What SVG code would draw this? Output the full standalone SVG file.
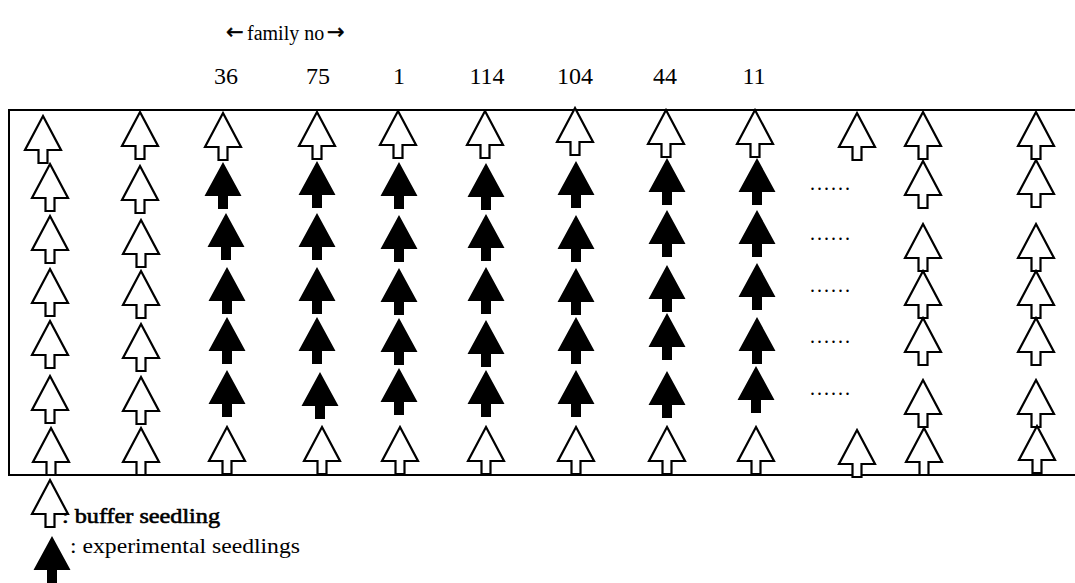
<svg xmlns="http://www.w3.org/2000/svg" xmlns:xlink="http://www.w3.org/1999/xlink" width="1075" height="583" viewBox="0 0 1075 583">
  <style>
    .lbl { font-family: "Liberation Serif", "Times New Roman", serif; font-size: 24px; fill: #000; }
    .ttl { font-family: "Liberation Serif", "Times New Roman", serif; font-size: 20px; fill: #000; }
    .arr { font-family: "DejaVu Sans", sans-serif; font-size: 21px; fill: #000; stroke: #000; stroke-width: 0.5; }
    .num { text-anchor: middle; }
    .dots { font-family: "Liberation Serif", "Times New Roman", serif; font-size: 20px; fill: #000; }
    .leg { font-family: "Liberation Serif", "Times New Roman", serif; font-size: 21px; fill: #000; }
    .heavy { stroke: #000; stroke-width: 0.6; }
    .frame { fill: none; stroke: #000; stroke-width: 2; }
  </style>
  <defs>
    <!-- seedling glyphs, apex at origin -->
    <path id="buf" d="M0,0 L18,34 L4.5,34 L4.5,47 L-4.5,47 L-4.5,34 L-18,34 Z" fill="#fff" stroke="#000" stroke-width="2.2" stroke-linejoin="miter"/>
    <path id="exp" d="M0,0 L18.5,34 L5,34 L5,47 L-5,47 L-5,34 L-18.5,34 Z" fill="#000"/>
  </defs>

  <rect x="0" y="0" width="1075" height="583" fill="#fff"/>

  <!-- header labels -->
  <g id="header">
    <text class="arr" x="226" y="39">←</text>
    <text class="ttl" x="247" y="40">family no</text>
    <text class="arr" x="327" y="39">→</text>
    <text class="lbl num" x="226" y="84">36</text>
    <text class="lbl num" x="318" y="84">75</text>
    <text class="lbl num" x="399" y="84">1</text>
    <text class="lbl num" x="487" y="84">114</text>
    <text class="lbl num" x="575" y="84">104</text>
    <text class="lbl num" x="665" y="84">44</text>
    <text class="lbl num" x="754" y="84">11</text>
  </g>

  <!-- plot frame (runs off the right edge) -->
  <path class="frame" d="M1080,110 L9,110 L9,475 L1080,475"/>

  <!-- border columns -->
  <g id="col1">
    <use xlink:href="#buf" x="43" y="116"/>
    <use xlink:href="#buf" x="50" y="164"/>
    <use xlink:href="#buf" x="50" y="216"/>
    <use xlink:href="#buf" x="50" y="269"/>
    <use xlink:href="#buf" x="50" y="321"/>
    <use xlink:href="#buf" x="50" y="376"/>
    <use xlink:href="#buf" x="51" y="428"/>
  </g>
  <g id="col2">
    <use xlink:href="#buf" x="140" y="112"/>
    <use xlink:href="#buf" x="140" y="166"/>
    <use xlink:href="#buf" x="141" y="220"/>
    <use xlink:href="#buf" x="141" y="271"/>
    <use xlink:href="#buf" x="141" y="324"/>
    <use xlink:href="#buf" x="141" y="377"/>
    <use xlink:href="#buf" x="141" y="428"/>
  </g>

  <!-- family columns -->
  <g id="fam36">
    <use xlink:href="#buf" x="223" y="113"/>
    <use xlink:href="#exp" x="223" y="162"/>
    <use xlink:href="#exp" x="226" y="213"/>
    <use xlink:href="#exp" x="227" y="267"/>
    <use xlink:href="#exp" x="227" y="317"/>
    <use xlink:href="#exp" x="227" y="370"/>
    <use xlink:href="#buf" x="227" y="427"/>
  </g>
  <g id="fam75">
    <use xlink:href="#buf" x="317" y="112"/>
    <use xlink:href="#exp" x="317" y="161"/>
    <use xlink:href="#exp" x="317" y="213"/>
    <use xlink:href="#exp" x="317" y="267"/>
    <use xlink:href="#exp" x="317" y="317"/>
    <use xlink:href="#exp" x="320" y="372"/>
    <use xlink:href="#buf" x="322" y="427"/>
  </g>
  <g id="fam1">
    <use xlink:href="#buf" x="398" y="111"/>
    <use xlink:href="#exp" x="399" y="162"/>
    <use xlink:href="#exp" x="399" y="215"/>
    <use xlink:href="#exp" x="399" y="268"/>
    <use xlink:href="#exp" x="399" y="318"/>
    <use xlink:href="#exp" x="399" y="368"/>
    <use xlink:href="#buf" x="400" y="427"/>
  </g>
  <g id="fam114">
    <use xlink:href="#buf" x="485" y="111"/>
    <use xlink:href="#exp" x="486" y="163"/>
    <use xlink:href="#exp" x="486" y="214"/>
    <use xlink:href="#exp" x="486" y="267"/>
    <use xlink:href="#exp" x="486" y="320"/>
    <use xlink:href="#exp" x="486" y="370"/>
    <use xlink:href="#buf" x="486" y="427"/>
  </g>
  <g id="fam104">
    <use xlink:href="#buf" x="575" y="108"/>
    <use xlink:href="#exp" x="576" y="161"/>
    <use xlink:href="#exp" x="576" y="215"/>
    <use xlink:href="#exp" x="576" y="268"/>
    <use xlink:href="#exp" x="576" y="317"/>
    <use xlink:href="#exp" x="576" y="370"/>
    <use xlink:href="#buf" x="576" y="427"/>
  </g>
  <g id="fam44">
    <use xlink:href="#buf" x="666" y="110"/>
    <use xlink:href="#exp" x="667" y="158"/>
    <use xlink:href="#exp" x="667" y="210"/>
    <use xlink:href="#exp" x="667" y="265"/>
    <use xlink:href="#exp" x="667" y="313"/>
    <use xlink:href="#exp" x="667" y="371"/>
    <use xlink:href="#buf" x="667" y="427"/>
  </g>
  <g id="fam11">
    <use xlink:href="#buf" x="755" y="110"/>
    <use xlink:href="#exp" x="757" y="158"/>
    <use xlink:href="#exp" x="757" y="210"/>
    <use xlink:href="#exp" x="757" y="263"/>
    <use xlink:href="#exp" x="757" y="317"/>
    <use xlink:href="#exp" x="756" y="366"/>
    <use xlink:href="#buf" x="756" y="427"/>
  </g>

  <!-- continuation marks -->
  <g id="more">
    <use xlink:href="#buf" x="857" y="113"/>
    <text class="dots" x="810" y="190" textLength="40" lengthAdjust="spacing">......</text>
    <text class="dots" x="810" y="240" textLength="40" lengthAdjust="spacing">......</text>
    <text class="dots" x="810" y="292" textLength="40" lengthAdjust="spacing">......</text>
    <text class="dots" x="810" y="343" textLength="40" lengthAdjust="spacing">......</text>
    <text class="dots" x="810" y="395" textLength="40" lengthAdjust="spacing">......</text>
    <use xlink:href="#buf" x="857" y="430"/>
  </g>

  <!-- right border columns -->
  <g id="col11">
    <use xlink:href="#buf" x="923" y="112"/>
    <use xlink:href="#buf" x="923" y="161"/>
    <use xlink:href="#buf" x="923" y="224"/>
    <use xlink:href="#buf" x="923" y="271"/>
    <use xlink:href="#buf" x="923" y="318"/>
    <use xlink:href="#buf" x="923" y="380"/>
    <use xlink:href="#buf" x="924" y="428"/>
  </g>
  <g id="col12">
    <use xlink:href="#buf" x="1036" y="112"/>
    <use xlink:href="#buf" x="1036" y="160"/>
    <use xlink:href="#buf" x="1036" y="224"/>
    <use xlink:href="#buf" x="1036" y="271"/>
    <use xlink:href="#buf" x="1036" y="318"/>
    <use xlink:href="#buf" x="1036" y="380"/>
    <use xlink:href="#buf" x="1037" y="426"/>
  </g>

  <!-- key -->
  <g id="legend">
    <use xlink:href="#buf" x="50" y="480"/>
    <text class="leg heavy" x="62" y="523" textLength="158" lengthAdjust="spacingAndGlyphs">: buffer seedling</text>
    <use xlink:href="#exp" x="52" y="536"/>
    <text class="leg" x="70" y="553" textLength="230" lengthAdjust="spacingAndGlyphs">: experimental seedlings</text>
  </g>
</svg>
